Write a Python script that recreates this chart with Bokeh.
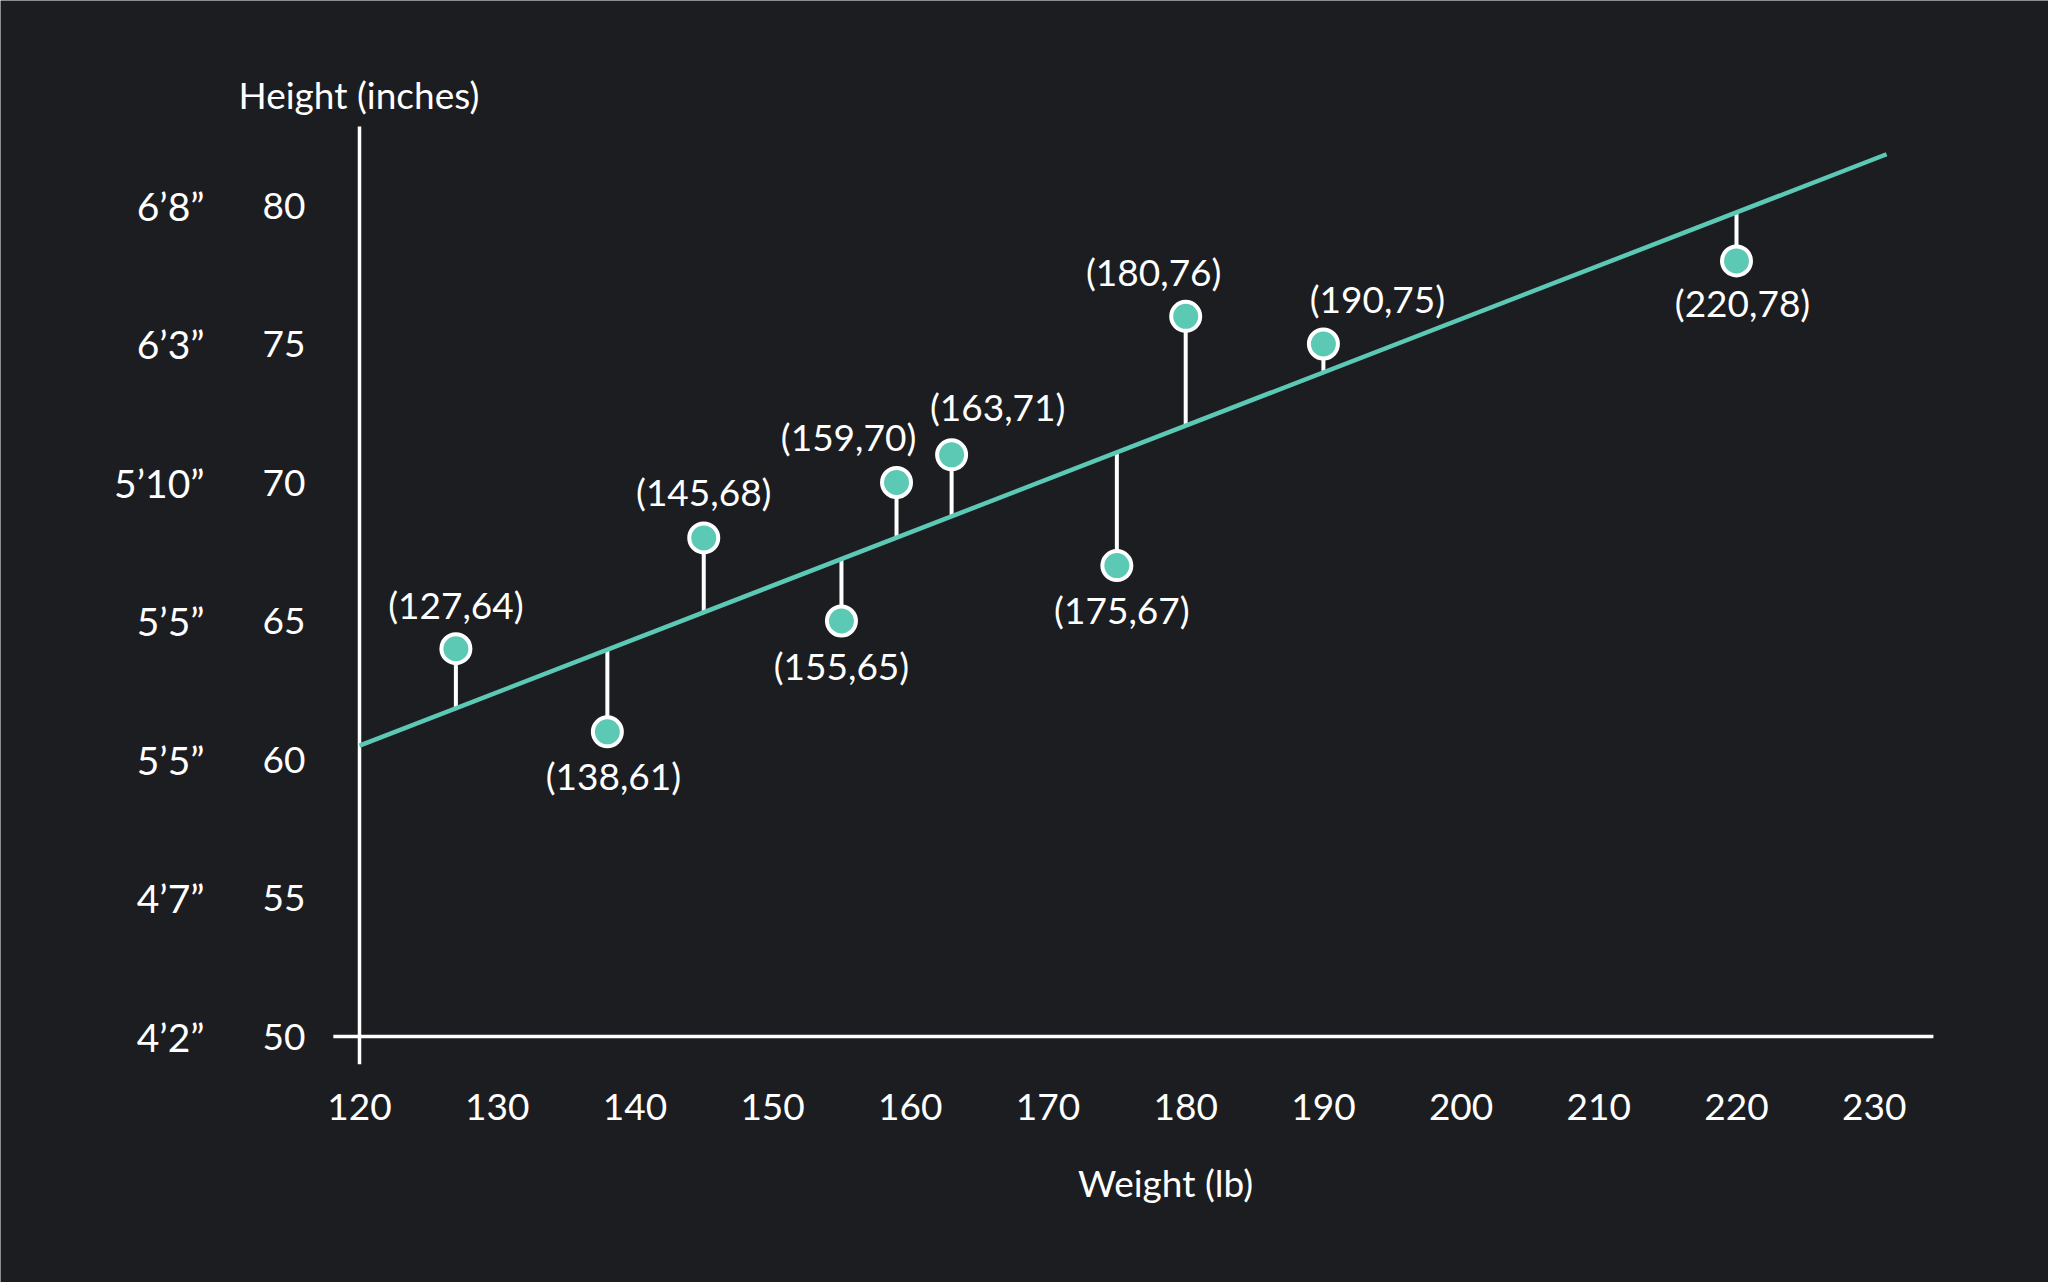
import numpy as np
from bokeh.plotting import figure
from bokeh.models import ColumnDataSource, Range1d
from bokeh.core.properties import value
from bokeh.embed import file_html
from bokeh.resources import INLINE

# ---- data -------------------------------------------------------------
weights = [127, 138, 145, 155, 159, 163, 175, 180, 190, 220]
heights = [64, 61, 68, 65, 70, 71, 67, 76, 75, 78]

# least-squares line as drawn (end points)
fit_w = [120, 230.9]
fit_h = [60.5, 81.85]

x_ticks = [120, 130, 140, 150, 160, 170, 180, 190, 200, 210, 220, 230]
y_ticks = [50, 55, 60, 65, 70, 75, 80]
feet_labels = ["4’2”", "4’7”", "5’5”", "5’5”", "5’10”", "6’3”", "6’8”"]

x_title = "Weight (lb)"
y_title = "Height (inches)"

# ---- styling ----------------------------------------------------------
BG = "#1c1d21"
TEAL = "#5cc9b5"
WHITE = "#ffffff"
FONT = value("Lato")

# label offsets in screen pixels (dx, dy; dy positive = downward)
label_dx = [0, 6, 0, 0, -48, 46, 5, -32, 54, 6]
label_dy = [-44, 44, -46, 44, -46, -48, 44, -45, -46, 42]

W, H = 2048, 1282
# pixel placement of the data area
x0_px, px_per_x = 359, 13.77
y0_px, px_per_y = 1036, 27.7

x_start = x_ticks[0] - x0_px / px_per_x
x_end = x_start + W / px_per_x
y_end = y_ticks[0] + y0_px / px_per_y
y_start = y_end - H / px_per_y

p = figure(width=W, height=H, output_backend="svg", toolbar_location=None,
           x_range=Range1d(x_start, x_end), y_range=Range1d(y_start, y_end),
           x_axis_location=None, y_axis_location=None,
           min_border=0, background_fill_color=BG, border_fill_color=BG,
           outline_line_color=None)
p.grid.visible = False

# axis lines (crossing, each overshooting the other a little)
x_lo, x_hi = x_ticks[0] - 1.9, x_ticks[-1] + 4.3
y_lo, y_hi = y_ticks[0] - 1.0, y_ticks[-1] + 2.85
p.segment(x0=[x_lo], y0=[y_ticks[0]], x1=[x_hi], y1=[y_ticks[0]],
          line_color=WHITE, line_width=3.5)
p.segment(x0=[x_ticks[0]], y0=[y_lo], x1=[x_ticks[0]], y1=[y_hi],
          line_color=WHITE, line_width=3.5)

# tick labels
p.text(x=x_ticks, y=[y_ticks[0]] * len(x_ticks), text=[str(t) for t in x_ticks],
       text_font=FONT, text_font_size="37px", text_color=WHITE,
       text_align="center", text_baseline="middle", y_offset=70)
p.text(x=[x_ticks[0]] * len(y_ticks), y=y_ticks, text=[str(t) for t in y_ticks],
       text_font=FONT, text_font_size="37px", text_color=WHITE,
       text_align="right", text_baseline="middle", x_offset=-54)
p.text(x=[x_ticks[0]] * len(y_ticks), y=y_ticks, text=feet_labels,
       text_font=FONT, text_font_size="39px", text_color=WHITE,
       text_align="right", text_baseline="middle", x_offset=-155)

# axis titles
p.text(x=[x_ticks[0]], y=[y_ticks[0]], text=[x_title],
       text_font=FONT, text_font_size="37px", text_color=WHITE,
       text_align="center", text_baseline="middle", x_offset=806, y_offset=146)
p.text(x=[x_ticks[0]], y=[y_ticks[-1]], text=[y_title],
       text_font=FONT, text_font_size="37px", text_color=WHITE,
       text_align="left", text_baseline="middle", x_offset=-121, y_offset=-111)

# residual stems from each point to the fitted line
on_line = np.interp(weights, fit_w, fit_h)
p.segment(x0=weights, y0=heights, x1=weights, y1=on_line,
          line_color=WHITE, line_width=4)

# regression line
p.line(x=fit_w, y=fit_h, line_color=TEAL, line_width=4.5)

# points
src = ColumnDataSource(dict(
    w=weights, h=heights,
    lbl=[f"({a},{b})" for a, b in zip(weights, heights)],
    dx=label_dx, dy=label_dy,
))
p.scatter(x="w", y="h", source=src, size=29, fill_color=TEAL,
          line_color=WHITE, line_width=4)
p.text(x="w", y="h", text="lbl", source=src, x_offset="dx", y_offset="dy",
       text_font=FONT, text_font_size="37px", text_color=WHITE,
       text_align="center", text_baseline="middle")

open("out.html", "w").write(file_html(p, INLINE))
